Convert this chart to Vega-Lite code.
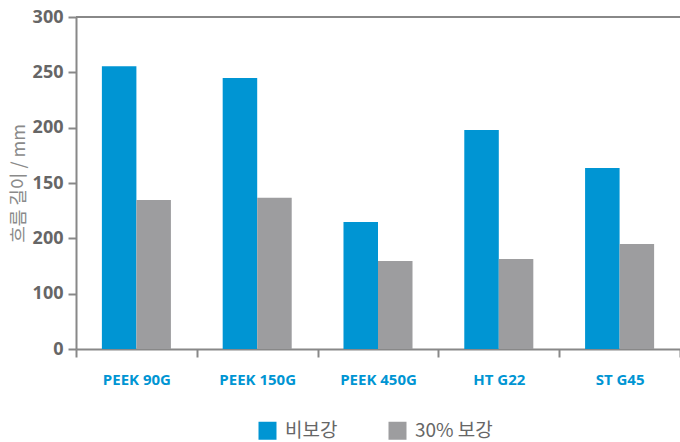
{
  "$schema": "https://vega.github.io/schema/vega-lite/v6.json",
  "width": 604,
  "height": 332,
  "autosize": "none",
  "padding": {"left": 76, "top": 17, "right": 0, "bottom": 93},
  "background": "white",
  "config": {"view": {"stroke": null}, "font": "Open Sans"},
  "data": {
    "values": [
      {"grade": "PEEK 90G", "series": "비보강", "value": 255.5},
      {"grade": "PEEK 90G", "series": "30% 보강", "value": 134.6},
      {"grade": "PEEK 150G", "series": "비보강", "value": 244.9},
      {"grade": "PEEK 150G", "series": "30% 보강", "value": 136.7},
      {"grade": "PEEK 450G", "series": "비보강", "value": 114.8},
      {"grade": "PEEK 450G", "series": "30% 보강", "value": 79.5},
      {"grade": "HT G22", "series": "비보강", "value": 197.9},
      {"grade": "HT G22", "series": "30% 보강", "value": 81.3},
      {"grade": "ST G45", "series": "비보강", "value": 163.5},
      {"grade": "ST G45", "series": "30% 보강", "value": 94.9}
    ]
  },
  "layer": [
    {
      "mark": {"type": "bar"},
      "encoding": {
        "x": {
          "field": "grade",
          "type": "nominal",
          "sort": ["PEEK 90G", "PEEK 150G", "PEEK 450G", "HT G22", "ST G45"],
          "scale": {"paddingInner": 0, "paddingOuter": 0},
          "axis": {
            "title": null,
            "labelAngle": 0,
            "tickBand": "extent",
            "labelColor": "#0095d3",
            "labelFontWeight": "bold",
            "labelFontSize": 15,
            "labelFont": "Open Sans",
            "labelPadding": 15,
            "tickSize": 8,
            "tickWidth": 2,
            "tickColor": "#888888",
            "domainColor": "#888888",
            "domainWidth": 2
          }
        },
        "xOffset": {
          "field": "series",
          "type": "nominal",
          "sort": ["비보강", "30% 보강"],
          "scale": {"paddingInner": 0, "paddingOuter": 0.75}
        },
        "y": {
          "field": "value",
          "type": "quantitative",
          "scale": {"domain": [0, 300], "nice": false},
          "axis": {
            "values": [0, 50, 100, 150, 200, 250, 300],
            "labelExpr": "datum.value == 50 ? '100' : datum.value == 100 ? '200' : datum.label",
            "grid": false,
            "tickSize": 8,
            "tickWidth": 2,
            "tickColor": "#888888",
            "domainColor": "#888888",
            "domainWidth": 2,
            "labelFontSize": 18,
            "labelFontWeight": "bold",
            "labelColor": "#666666",
            "labelFont": "Open Sans",
            "labelPadding": 5,
            "title": "흐름 길이 / mm",
            "titleFont": "Noto Sans CJK KR",
            "titleFontSize": 18,
            "titleFontWeight": "normal",
            "titleColor": "#8a8a8a",
            "titlePadding": 4
          }
        },
        "color": {
          "field": "series",
          "type": "nominal",
          "sort": ["비보강", "30% 보강"],
          "scale": {"domain": ["비보강", "30% 보강"], "range": ["#0095d3", "#9d9d9f"]},
          "legend": {
            "title": null,
            "orient": "none",
            "legendX": 182,
            "legendY": 404,
            "direction": "horizontal",
            "symbolType": "square",
            "symbolSize": 324,
            "symbolStrokeWidth": 0,
            "labelFont": "Noto Sans CJK KR",
            "labelFontSize": 19,
            "labelColor": "#666666",
            "columnPadding": 50,
            "labelOffset": 8
          }
        }
      }
    },
    {
      "mark": {"type": "rule", "color": "#888888", "strokeWidth": 2},
      "encoding": {"y": {"datum": 300}}
    }
  ]
}
